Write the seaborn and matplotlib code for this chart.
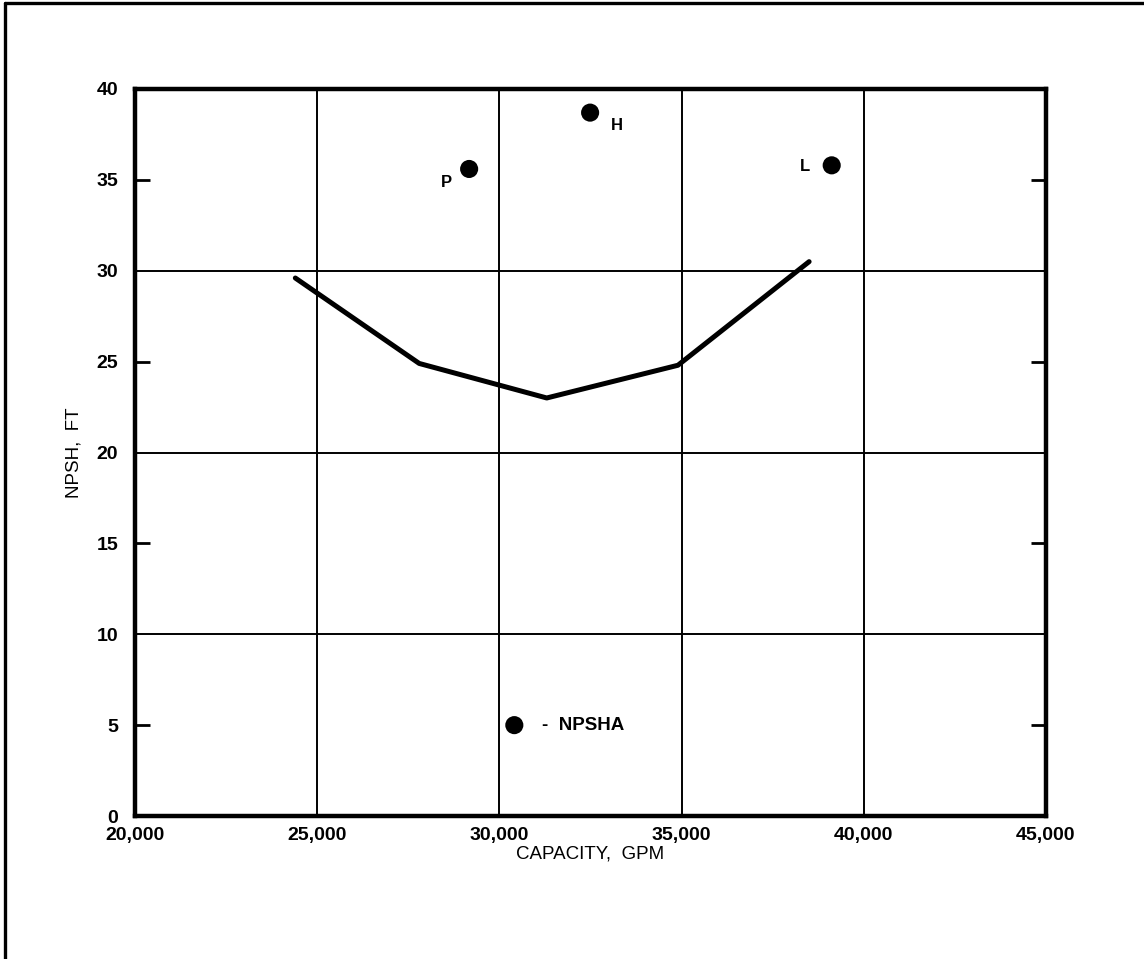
import matplotlib
matplotlib.use("Agg")
import matplotlib.pyplot as plt
from matplotlib.lines import Line2D
from matplotlib.ticker import FuncFormatter
import pandas as pd
import seaborn as sns

# NPSH required curve
curve_gpm = [24400, 27800, 31300, 34900, 38500]
curve_npsh = [29.6, 24.9, 23.0, 24.8, 30.5]

# Labelled operating points
point_names = ["P", "H", "L"]
point_gpm = [29170, 32490, 39120]
point_npsh = [35.6, 38.7, 35.8]

# NPSHA legend dot
npsha_gpm = [30410]
npsha_ft = [5.0]

x_ticks = [20000, 25000, 30000, 35000, 40000, 45000]
y_major = [0, 10, 20, 30, 40]
y_minor = [5, 15, 25, 35]

sns.set_style("white")
plt.rcParams["font.family"] = ["Liberation Sans", "DejaVu Sans"]
plt.rcParams["text.color"] = "black"
plt.rcParams["axes.labelcolor"] = "black"
plt.rcParams["xtick.color"] = "black"
plt.rcParams["ytick.color"] = "black"

fig = plt.figure(figsize=(11.44, 9.59), dpi=100)
ax = fig.add_axes([0.118, 0.1491, 0.7963, 0.7581])

curve_df = pd.DataFrame({"gpm": curve_gpm, "npsh": curve_npsh})
pts_df = pd.DataFrame({"gpm": point_gpm, "npsh": point_npsh, "name": point_names})

sns.lineplot(data=curve_df, x="gpm", y="npsh", ax=ax, color="black",
             linewidth=3.6, sort=False, zorder=5)
sns.scatterplot(data=pts_df, x="gpm", y="npsh", ax=ax, color="black",
                s=170, edgecolor="none", zorder=6)
sns.scatterplot(x=npsha_gpm, y=npsha_ft, ax=ax, color="black",
                s=170, edgecolor="none", zorder=6)

# labels next to the points (offsets in points)
offsets = {"P": (-16, -10), "H": (19, -9), "L": (-19, -1)}
for name, gx, gy in zip(point_names, point_gpm, point_npsh):
    ax.annotate(name, (gx, gy), textcoords="offset points", xytext=offsets[name],
                ha="center", va="center", fontsize=12, fontweight="bold")
ax.annotate("-  NPSHA", (npsha_gpm[0], npsha_ft[0]), textcoords="offset points",
            xytext=(20, 0), ha="left", va="center", fontsize=13.5, fontweight="bold")

ax.set_xlim(20000, 45000)
ax.set_ylim(0, 40)
ax.set_xticks(x_ticks)
ax.xaxis.set_major_formatter(FuncFormatter(lambda v, p: f"{int(v):,}"))
ax.set_yticks(y_major)
ax.set_yticks(y_minor, minor=True)
ax.set_yticklabels([str(v) for v in y_major])
ax.set_yticklabels([str(v) for v in y_minor], minor=True)

ax.tick_params(axis="x", which="major", length=0, pad=8, labelsize=14)
ax.tick_params(axis="y", which="major", length=0, pad=12, labelsize=14)
ax.tick_params(axis="y", which="minor", direction="in", length=11, width=2,
               left=True, right=True, pad=12, labelsize=14)
for lab in ax.get_xticklabels() + ax.get_yticklabels() + ax.get_yticklabels(minor=True):
    lab.set_fontweight("bold")

ax.grid(True, which="major", color="black", linewidth=1.4)
ax.set_axisbelow(True)
for sp in ax.spines.values():
    sp.set_visible(True)
    sp.set_color("black")
    sp.set_linewidth(3.2)

ax.set_xlabel("CAPACITY,  GPM", fontsize=13.5, labelpad=1)
ax.set_ylabel("NPSH,  FT", fontsize=13.5, labelpad=10)

# page frame (top and left edges)
fig.add_artist(Line2D([0.004, 0.004], [0.0, 0.9965], transform=fig.transFigure,
                      color="black", linewidth=2.4))
fig.add_artist(Line2D([0.004, 1.0], [0.9965, 0.9965], transform=fig.transFigure,
                      color="black", linewidth=2.4))

fig.savefig("out.png", dpi=100, facecolor="white")
